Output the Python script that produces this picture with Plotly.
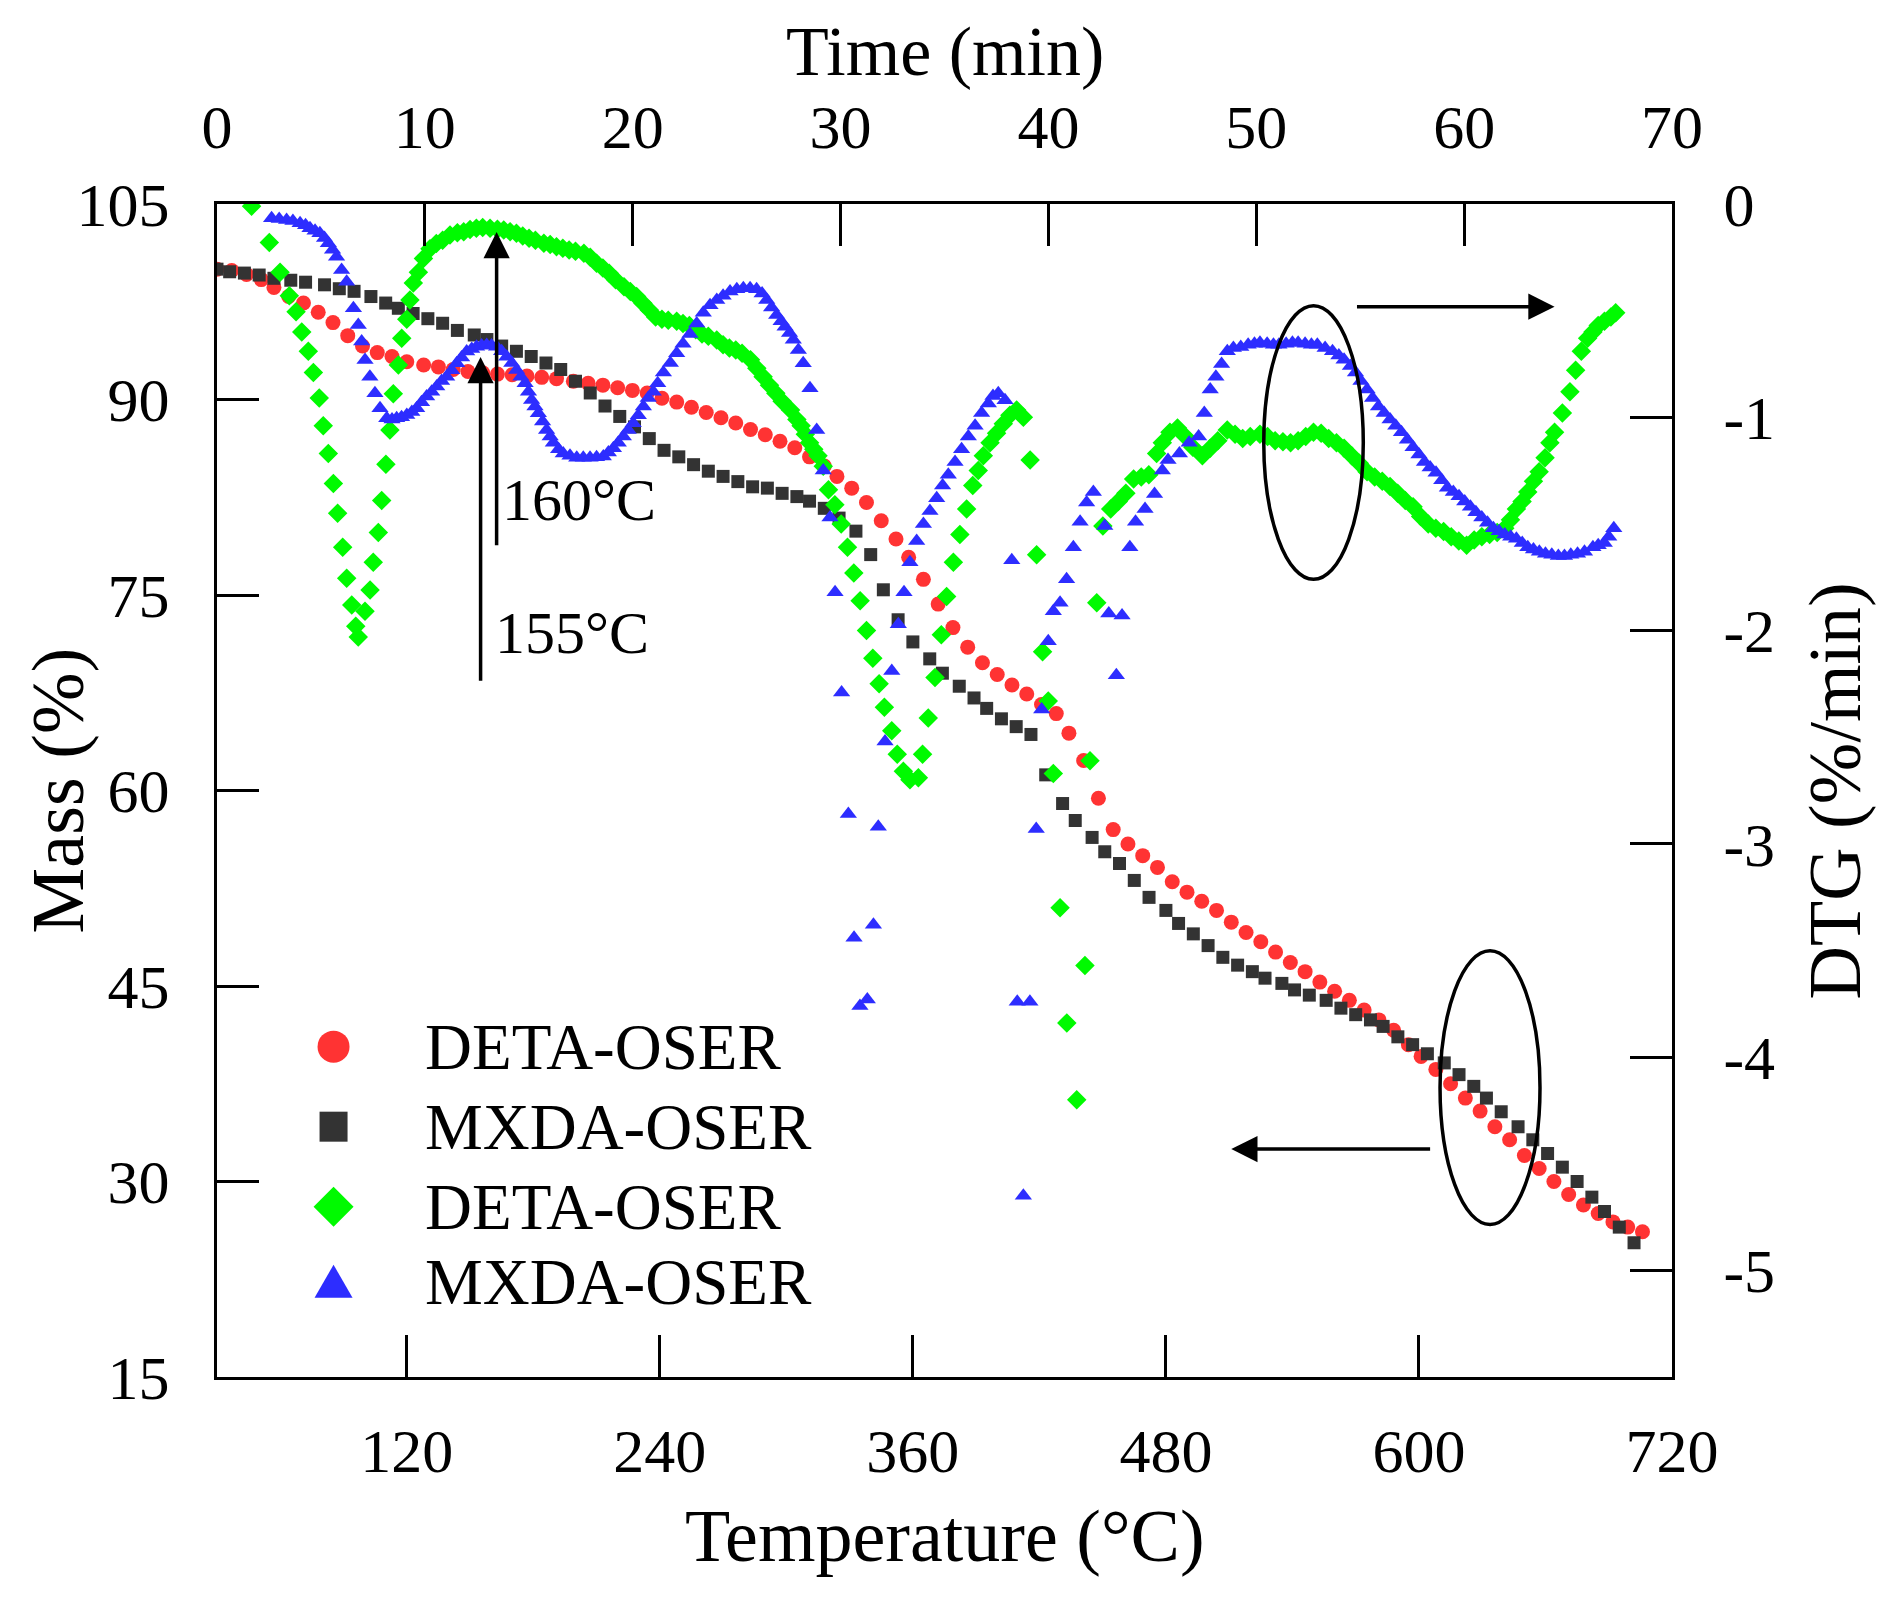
import plotly.graph_objects as go

# ---- data ----
# TGA (mass %) vs temperature
deta_tga_temp = [30, 37, 44, 51, 57, 64, 71, 78, 85, 92, 99, 106, 113, 120, 128, 135, 142, 149, 156, 163,
                 170, 177, 184, 191, 199, 206, 213, 220, 227, 234, 241, 248, 255, 262, 269, 276, 283, 290,
                 297, 304, 311, 318, 324, 331, 338, 345, 352, 358, 365, 372, 379, 386, 393, 400, 407, 414,
                 421, 428, 434, 441, 448, 455, 462, 469, 476, 483, 490, 497, 504, 511, 518, 525, 532, 539,
                 546, 553, 560, 567, 574, 581, 588, 595, 601, 608, 615, 622, 629, 636, 643, 650, 657, 664,
                 671, 678, 685, 692, 699, 706]
deta_tga_mass = [100.0, 99.9, 99.6, 99.2, 98.6, 97.9, 97.4, 96.7, 95.9, 94.9, 94.1, 93.6, 93.3, 92.9, 92.65,
                 92.5, 92.3, 92.15, 92.05, 91.95, 91.9, 91.8, 91.7, 91.6, 91.4, 91.25, 91.1, 90.9, 90.7, 90.5,
                 90.1, 89.8, 89.4, 89.0, 88.6, 88.2, 87.7, 87.3, 86.8, 86.3, 85.6, 84.9, 84.1, 83.2, 82.1,
                 80.7, 79.3, 77.9, 76.2, 74.3, 72.5, 71.0, 69.8, 68.9, 68.1, 67.4, 66.6, 65.9, 64.4, 62.3,
                 59.4, 57.0, 55.9, 55.0, 54.1, 53.0, 52.2, 51.5, 50.8, 49.9, 49.1, 48.4, 47.6, 46.8, 46.1,
                 45.3, 44.6, 43.9, 43.15, 42.4, 41.6, 40.5, 39.6, 38.6, 37.5, 36.4, 35.4, 34.2, 33.2, 32.0,
                 31.0, 30.0, 29.0, 28.2, 27.55, 26.9, 26.5, 26.15]

mxda_tga_temp = [30, 36, 43, 50, 57, 65, 72, 81, 88, 95, 103, 110, 116, 123, 130, 137, 144, 152, 158, 165,
                 172, 179, 186, 193, 200, 207, 214, 221, 228, 235, 242, 249, 256, 263, 270, 277, 284, 291,
                 298, 305, 311, 318, 325, 333, 340, 346, 353, 360, 368, 374, 382, 389, 395, 402, 409, 416,
                 423, 431, 437, 445, 451, 458, 465, 472, 480, 486, 493, 500, 507, 514, 521, 527, 535, 541,
                 548, 556, 563, 570, 577, 583, 590, 597, 604, 612, 619, 626, 632, 639, 647, 654, 661, 668,
                 675, 682, 688, 695, 702]
mxda_tga_mass = [100.0, 99.8, 99.7, 99.55, 99.3, 99.15, 99.0, 98.8, 98.5, 98.3, 97.9, 97.4, 97.0, 96.6, 96.2,
                 95.85, 95.3, 94.95, 94.6, 94.1, 93.7, 93.3, 92.8, 92.3, 91.4, 90.5, 89.5, 88.7, 87.9, 87.0,
                 86.1, 85.6, 85.0, 84.5, 84.1, 83.7, 83.3, 83.2, 82.8, 82.55, 82.2, 81.65, 80.9, 79.9, 78.1,
                 75.4, 73.1, 71.4, 70.1, 69.0, 68.0, 67.1, 66.3, 65.5, 64.9, 64.3, 61.2, 59.0, 57.7, 56.4,
                 55.3, 54.4, 53.1, 51.8, 50.8, 49.8, 49.0, 48.1, 47.2, 46.6, 46.1, 45.6, 45.2, 44.7, 44.3,
                 43.9, 43.3, 42.8, 42.4, 41.9, 41.1, 40.5, 39.8, 39.1, 38.2, 37.3, 36.4, 35.35, 34.2, 33.2,
                 32.15, 31.1, 30.0, 28.8, 27.7, 26.5, 25.3]

# DTG (%/min) vs temperature
deta_dtg_temp = [46.4, 54.8, 59.9, 64.3, 67.5, 70.2, 73.3, 75.7, 78.5, 80.4, 82.8, 85.2, 87.2, 89.6, 91.5,
                 93.9, 95.8, 97.0, 100.2, 102.6, 104.1, 106.5, 108.1, 110.1, 112.0, 113.6, 116.0, 117.6,
                 120.0, 121.5, 123.1, 125.5, 127.9, 131, 134, 137, 140.5, 144, 147, 150, 153, 156, 159.5,
                 163, 166, 169, 172, 175, 178, 181, 185, 188, 191, 194, 197, 200, 204, 207, 210, 213, 216,
                 219, 223, 226, 229, 232, 235, 238, 241, 244, 248, 251, 254, 257, 260, 263, 267, 270, 273,
                 276, 279, 283, 286, 289, 292, 295, 298, 302, 305, 307, 309, 311, 313, 315, 317.5, 320, 323,
                 326, 329, 332, 335, 338, 341, 344, 346.5, 350, 352.6, 355.5, 358.6, 362.6, 364.6, 367.3,
                 370.5, 373.5, 376, 379.2, 382.3, 385.5, 388.4, 391, 393.4, 396.6, 399.7, 402.9, 406, 409.2,
                 412.4, 415.6, 418.7, 421.5, 424.2, 426.6, 429.8, 433, 437.7, 441.6, 444, 447.2, 450.1,
                 453.8, 457.4, 461.0, 464.7, 468.3, 471.9, 475.6, 478.3, 481.9, 485.5, 489.2, 492.8, 497.3,
                 501, 504.6, 509.1, 512.8, 516.4, 520, 524.6, 528.2, 531.8, 535.5, 539.1, 542.7, 546.3, 550,
                 553.6, 557.2, 560.9, 564.5, 568.1, 571.7, 575.4, 579, 582.6, 586.3, 589.9, 593.5, 597.2,
                 600.8, 604.4, 608, 611.7, 615.3, 618.9, 622.6, 626.2, 629.8, 633.5, 637.1, 640.7, 643.4,
                 646.2, 648.9, 651.6, 654.3, 657, 659.8, 662.1, 664.3, 668, 671.6, 674.3, 677, 680, 682.5,
                 685, 688, 691, 693.3]
deta_dtg_rate = [-0.01, -0.18, -0.32, -0.43, -0.505, -0.60, -0.69, -0.79, -0.91, -1.04, -1.17, -1.31, -1.45,
                 -1.61, -1.755, -1.88, -1.98, -2.03, -1.91, -1.81, -1.68, -1.54, -1.39, -1.22, -1.06, -0.89,
                 -0.755, -0.63, -0.54, -0.45, -0.37, -0.32, -0.255, -0.21, -0.185, -0.17, -0.145, -0.135,
                 -0.13, -0.12, -0.114, -0.11, -0.114, -0.118, -0.122, -0.13, -0.137, -0.15, -0.161, -0.17,
                 -0.184, -0.19, -0.2, -0.208, -0.216, -0.222, -0.231, -0.25, -0.278, -0.30, -0.325, -0.355,
                 -0.388, -0.41, -0.434, -0.465, -0.497, -0.53, -0.54, -0.545, -0.55, -0.56, -0.57, -0.59,
                 -0.61, -0.62, -0.638, -0.66, -0.675, -0.685, -0.70, -0.73, -0.77, -0.81, -0.85, -0.887,
                 -0.925, -0.966, -1.01, -1.04, -1.08, -1.12, -1.15, -1.18, -1.23, -1.34, -1.41, -1.50,
                 -1.61, -1.73, -1.86, -2.0, -2.13, -2.25, -2.36, -2.47, -2.58, -2.66, -2.70, -2.69, -2.58,
                 -2.41, -2.22, -2.02, -1.84, -1.68, -1.55, -1.43, -1.32, -1.25, -1.18, -1.12, -1.075, -1.03,
                 -0.99, -0.966, -1.0, -1.2, -1.645, -2.10, -2.33, -2.67, -3.30, -3.84, -4.20, -3.57, -2.61,
                 -1.87, -1.51, -1.43, -1.395, -1.356, -1.29, -1.28, -1.27, -1.17, -1.12, -1.07, -1.05,
                 -1.09, -1.14, -1.18, -1.145, -1.11, -1.06, -1.08, -1.10, -1.09, -1.08, -1.09, -1.11,
                 -1.115, -1.12, -1.11, -1.09, -1.07, -1.075, -1.10, -1.12, -1.145, -1.18, -1.215, -1.255,
                 -1.28, -1.30, -1.325, -1.356, -1.39, -1.42, -1.465, -1.50, -1.52, -1.536, -1.56, -1.58,
                 -1.60, -1.575, -1.56, -1.55, -1.54, -1.52, -1.48, -1.43, -1.395, -1.35, -1.30, -1.255,
                 -1.19, -1.12, -1.07, -0.98, -0.88, -0.78, -0.69, -0.63, -0.60, -0.57, -0.55, -0.53, -0.51]

mxda_dtg_temp = [55.9, 59.5, 63, 66, 69.4, 72, 74.1, 76.5, 78.8, 81, 82.8, 84.8, 86.7, 89.1, 91.5, 94.7, 97,
                 98.6, 100.2, 102.5, 104.9, 107.3, 110.5, 113, 115.2, 117.5, 120, 122.4, 124.7, 127, 129.4,
                 131.8, 134.2, 136.5, 138.9, 141.3, 143.7, 146, 148.4, 150.8, 153.1, 155.5, 157.9, 160.2,
                 162.6, 165, 167.4, 169.8, 172.1, 174.1, 176.1, 177.7, 179.2, 180.8, 182.4, 184.4, 186.3,
                 188, 189.5, 192, 194.2, 197.4, 200.6, 203.7, 206.9, 210, 213.2, 215.6, 218, 220.3, 222.7,
                 225, 227.4, 229.8, 232.2, 234.5, 236.9, 239, 241.7, 245, 248, 251, 254.3, 257.5, 260.6,
                 263.8, 267, 270, 273.3, 276.5, 279.6, 282.8, 285.9, 288.5, 290.7, 293, 295.4, 297.5, 299.4,
                 301.5, 303.3, 305.7, 308, 311.2, 314.4, 317.5, 320.7, 323.1, 326.2, 329.4, 332.1, 334.9,
                 338.4, 341.3, 343.6, 346.8, 350, 353.1, 355.8, 358.6, 361.8, 365, 368.1, 371.3, 374.1,
                 376.8, 380, 383.1, 386.3, 389.5, 392.6, 395.8, 398, 400.5, 403.7, 406.9, 409.5, 412.4,
                 415.5, 418.5, 421.1, 424.2, 426.6, 429.8, 432.9, 436.1, 439.3, 442.4, 445.6, 451, 452.9,
                 456.5, 459.2, 462.9, 465.6, 470.1, 474.6, 478.3, 481, 486.4, 491, 495.5, 498.2, 501, 503.7,
                 506.4, 509.1, 512, 515.5, 519, 522, 524.6, 528, 531, 533.6, 537, 540, 542.7, 546, 549,
                 551.8, 555.5, 559, 562, 564.5, 567.5, 569.9, 572.5, 575.4, 578, 580.8, 583.5, 586.3, 589,
                 591.7, 594.5, 597.2, 600, 602.6, 605.3, 608.1, 610.8, 613.5, 616.3, 619, 621.7, 624.4,
                 627, 629.8, 632.5, 635.3, 638, 640.7, 643.5, 646.2, 649, 651.6, 654.3, 657.1, 660, 663,
                 666.1, 669, 672, 675.2, 678.5, 682.5, 685, 687.9, 690, 692.4]
mxda_dtg_rate = [-0.067, -0.07, -0.075, -0.08, -0.09, -0.10, -0.114, -0.125, -0.137, -0.16, -0.184, -0.215,
                 -0.247, -0.31, -0.364, -0.489, -0.567, -0.645, -0.731, -0.81, -0.887, -0.958, -1.005, -1.01,
                 -1.005, -1.0, -0.989, -0.975, -0.958, -0.93, -0.903, -0.88, -0.856, -0.83, -0.81, -0.78,
                 -0.747, -0.72, -0.692, -0.68, -0.669, -0.663, -0.661, -0.663, -0.669, -0.69, -0.716,
                 -0.745, -0.778, -0.81, -0.84, -0.88, -0.919, -0.95, -0.981, -1.02, -1.06, -1.09, -1.12,
                 -1.15, -1.17, -1.18, -1.19, -1.19, -1.19, -1.188, -1.184, -1.165, -1.145, -1.12, -1.09,
                 -1.06, -1.028, -0.99, -0.95, -0.91, -0.88, -0.84, -0.79, -0.745, -0.70, -0.655, -0.61,
                 -0.56, -0.51, -0.475, -0.45, -0.43, -0.41, -0.40, -0.395, -0.395, -0.40, -0.42, -0.45,
                 -0.485, -0.52, -0.55, -0.575, -0.605, -0.637, -0.684, -0.747, -0.864, -1.06, -1.25, -1.47,
                 -1.82, -2.29, -2.86, -3.44, -3.76, -3.73, -3.38, -2.92, -2.52, -2.19, -1.97, -1.82, -1.68,
                 -1.58, -1.50, -1.44, -1.38, -1.32, -1.27, -1.21, -1.15, -1.09, -1.04, -0.98, -0.935, -0.90,
                 -0.887, -0.92, -1.67, -3.74, -4.65, -3.74, -2.93, -2.37, -2.05, -1.91, -1.87, -1.76, -1.61,
                 -1.49, -1.40, -1.35, -1.51, -1.92, -2.21, -1.93, -1.61, -1.49, -1.43, -1.36, -1.25, -1.20,
                 -1.17, -1.12, -1.09, -0.98, -0.87, -0.81, -0.75, -0.69, -0.675, -0.67, -0.66, -0.655,
                 -0.65, -0.655, -0.66, -0.66, -0.655, -0.65, -0.65, -0.655, -0.66, -0.66, -0.675, -0.69,
                 -0.71, -0.73, -0.76, -0.79, -0.83, -0.87, -0.91, -0.95, -0.98, -1.01, -1.04, -1.07, -1.105,
                 -1.14, -1.175, -1.21, -1.235, -1.26, -1.295, -1.33, -1.35, -1.37, -1.395, -1.42, -1.445,
                 -1.47, -1.495, -1.52, -1.535, -1.55, -1.56, -1.57, -1.59, -1.61, -1.62, -1.63, -1.64,
                 -1.645, -1.65, -1.65, -1.645, -1.64, -1.63, -1.61, -1.60, -1.59, -1.56, -1.52]

# axes ticks
temp_ticks = [120, 240, 360, 480, 600, 720]
time_ticks = [0, 10, 20, 30, 40, 50, 60, 70]
mass_ticks = [15, 30, 45, 60, 75, 90, 105]
dtg_ticks = [0, -1, -2, -3, -4, -5]
dtg_labels = ["0", "-1", "-2", "-3", "-4", "-5"]

legend_names = ["DETA-OSER", "MXDA-OSER", "DETA-OSER", "MXDA-OSER"]

RED = "rgb(255,51,51)"
BLACK = "rgb(51,51,51)"
GREEN = "rgb(0,250,0)"
BLUE = "rgb(45,45,255)"
FONT = "Liberation Serif"

fig = go.Figure()

fig.add_trace(go.Scatter(x=deta_tga_temp, y=deta_tga_mass, mode="markers", name=legend_names[0],
                         marker=dict(symbol="circle", size=15, color=RED, line=dict(width=0))))
fig.add_trace(go.Scatter(x=mxda_tga_temp, y=mxda_tga_mass, mode="markers", name=legend_names[1],
                         marker=dict(symbol="square", size=13, color=BLACK, line=dict(width=0))))
fig.add_trace(go.Scatter(x=deta_dtg_temp, y=deta_dtg_rate, mode="markers", name=legend_names[2], yaxis="y2",
                         marker=dict(symbol="diamond", size=15, color=GREEN, line=dict(width=0))))
fig.add_trace(go.Scatter(x=mxda_dtg_temp, y=mxda_dtg_rate, mode="markers", name=legend_names[3], yaxis="y2",
                         marker=dict(symbol="triangle-up", size=15, color=BLUE, line=dict(width=0))))
# empty trace so the top time axis is drawn
fig.add_trace(go.Scatter(x=time_ticks, y=[None] * len(time_ticks), xaxis="x2", mode="markers",
                         hoverinfo="skip", showlegend=False))

tick_font = dict(family=FONT, size=62, color="black")
common = dict(showline=True, linewidth=3, linecolor="black", ticks="inside", ticklen=42, tickwidth=3,
              tickcolor="black", showgrid=False, zeroline=False, tickfont=tick_font)

# the page body adds an 8 px offset, so margins are shifted to compensate
fig.update_layout(
    width=1900, height=1600,
    margin=dict(l=209, r=236, t=196, b=231),
    paper_bgcolor="white", plot_bgcolor="white",
    showlegend=False,
    xaxis=dict(range=[30, 720], tickvals=temp_ticks, ticklabelstandoff=18, **common),
    xaxis2=dict(range=[0, 70], tickvals=time_ticks, overlaying="x", side="top", anchor="y",
                ticklabelstandoff=28, **common),
    yaxis=dict(range=[15, 105], tickvals=mass_ticks, ticklabelstandoff=32, **common),
    yaxis2=dict(range=[-5.5, 0], tickvals=dtg_ticks, ticktext=dtg_labels, overlaying="y", side="right",
                anchor="x", ticklabelstandoff=36, **common),
)

title_font = dict(family=FONT, size=74, color="black")
fig.add_annotation(text="Temperature (°C)", xref="paper", yref="paper", x=0.5, y=-0.1358, borderpad=0,
                   showarrow=False, font=title_font, xanchor="center", yanchor="middle")
fig.add_annotation(text="Time (min)", xref="paper", yref="paper", x=0.5, y=1.1296, borderpad=0,
                   showarrow=False, font=dict(family=FONT, size=70, color="black"),
                   xanchor="center", yanchor="middle")
fig.add_annotation(text="Mass (%)", xref="paper", yref="paper", x=-0.1093, y=0.5, textangle=-90, borderpad=0,
                   showarrow=False, font=title_font, xanchor="center", yanchor="middle")
fig.add_annotation(text="DTG (%/min)", xref="paper", yref="paper", x=1.112, y=0.5, textangle=-90, borderpad=0,
                   showarrow=False, font=title_font, xanchor="center", yanchor="middle")

# temperature labels with arrows
label_font = dict(family=FONT, size=60, color="black")
fig.add_annotation(text="160°C", x=164.0, y=82.3, xref="x", yref="y", showarrow=False,
                   xanchor="left", yanchor="middle", font=label_font)
fig.add_annotation(text="155°C", x=161.0, y=72.1, xref="x", yref="y", showarrow=False,
                   xanchor="left", yanchor="middle", font=label_font)

arrow_style = dict(text="", showarrow=True, arrowhead=2, arrowsize=1.5, arrowwidth=3.5, arrowcolor="black",
                   xref="x", yref="y", axref="x", ayref="y", standoff=0)
fig.add_annotation(x=162.6, y=102.85, ax=162.6, ay=78.7, **arrow_style)
fig.add_annotation(x=155.0, y=93.26, ax=155.0, ay=68.3, **arrow_style)
fig.add_annotation(x=664.3, y=97.12, ax=569.9, ay=97.12, **arrow_style)
fig.add_annotation(x=511.0, y=32.49, ax=606.0, ay=32.49, **arrow_style)

# ellipses marking which curves go with which axis
fig.add_shape(type="circle", xref="x", yref="y", x0=526.4, x1=573.6, y0=76.2, y1=97.2,
              line=dict(color="black", width=3.5))
fig.add_shape(type="circle", xref="x", yref="y", x0=610.0, x1=657.4, y0=26.7, y1=47.7,
              line=dict(color="black", width=3.5))

# hand-made legend with large symbols
leg_x = 0.0801
leg_rows = [0.2816, 0.2134, 0.1452, 0.0812]
fig.add_shape(type="circle", xref="paper", yref="paper", xsizemode="pixel", ysizemode="pixel",
              xanchor=leg_x, yanchor=leg_rows[0], x0=-16, x1=16, y0=-16, y1=16,
              fillcolor=RED, line=dict(width=0))
fig.add_shape(type="rect", xref="paper", yref="paper", xsizemode="pixel", ysizemode="pixel",
              xanchor=leg_x, yanchor=leg_rows[1], x0=-14, x1=14, y0=-15, y1=15,
              fillcolor=BLACK, line=dict(width=0))
fig.add_shape(type="path", xref="paper", yref="paper", xsizemode="pixel", ysizemode="pixel",
              xanchor=leg_x, yanchor=leg_rows[2], path="M0,20 L20,0 L0,-20 L-20,0 Z",
              fillcolor=GREEN, line=dict(width=0))
fig.add_shape(type="path", xref="paper", yref="paper", xsizemode="pixel", ysizemode="pixel",
              xanchor=leg_x, yanchor=leg_rows[3], path="M-19,-16 L19,-16 L0,17 Z",
              fillcolor=BLUE, line=dict(width=0))
for name, row in zip(legend_names, leg_rows):
    fig.add_annotation(text=name, xref="paper", yref="paper", x=0.1416, y=row, showarrow=False,
                       xanchor="left", yanchor="middle", font=dict(family=FONT, size=65, color="black"))

fig.write_html("out.html")
